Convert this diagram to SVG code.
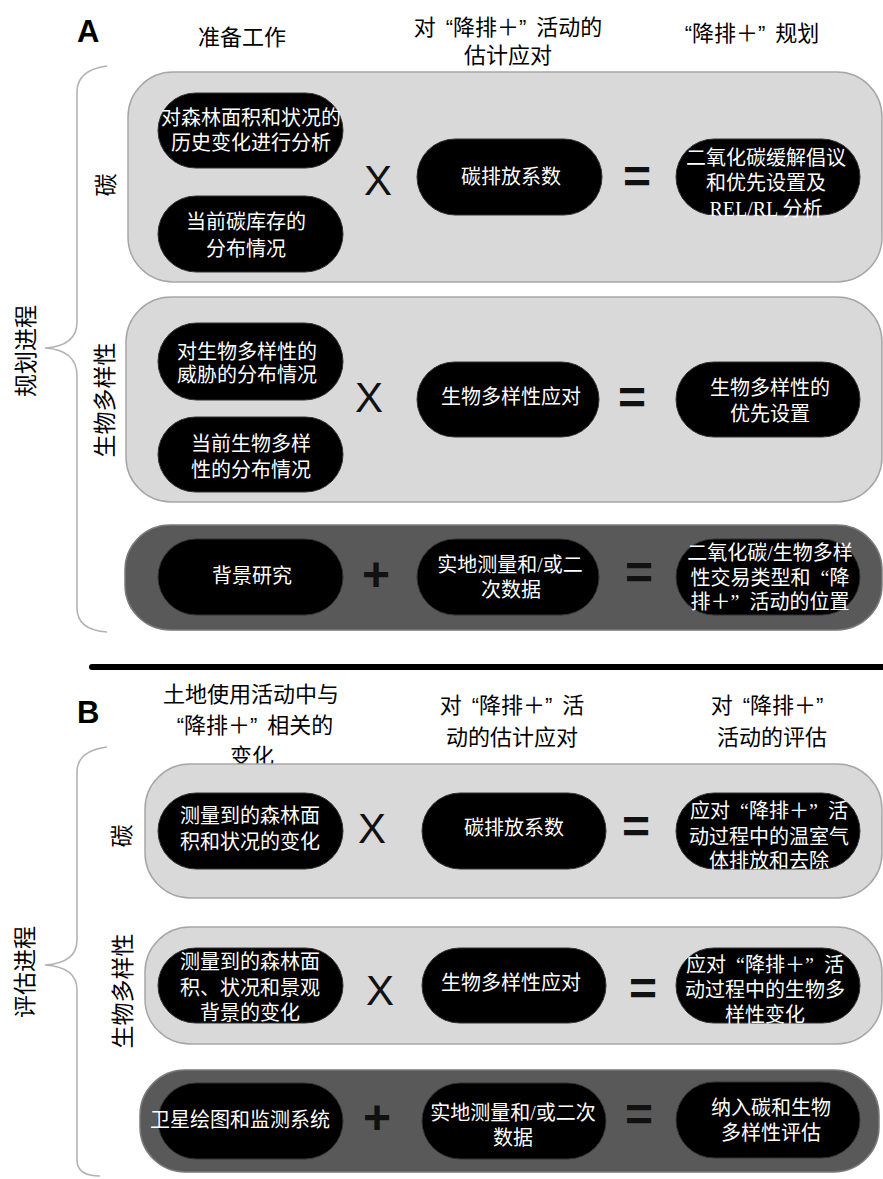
<svg xmlns="http://www.w3.org/2000/svg" width="883" height="1179" viewBox="0 0 883 1179">
<style>
.hd{font-family:"Liberation Sans","Noto Sans CJK SC",sans-serif;font-size:22px;fill:#000;text-anchor:middle;dominant-baseline:central}
.lbl{font-family:"Noto Sans CJK SC","Noto Sans",sans-serif;font-size:23px;fill:#000;text-anchor:middle;dominant-baseline:central}
.big{font-family:"Liberation Sans",Arial,sans-serif;font-weight:bold;font-size:31px;fill:#000}
.nt{font-family:"Liberation Serif","Noto Sans CJK SC",serif;font-size:20px;fill:#fff;text-anchor:middle;dominant-baseline:central}
.pill{fill:#000;stroke:#333;stroke-width:1}
.lt{fill:#d9d9d9;stroke:#a6a6a6;stroke-width:1.5}
.dk{fill:#595959;stroke:#7a7a7a;stroke-width:1.5}
.op{font-family:"Liberation Sans",Arial,sans-serif;font-size:42px;fill:#111;text-anchor:middle;dominant-baseline:central}
.opb{font-family:"Liberation Sans",Arial,sans-serif;font-weight:bold;font-size:48px;fill:#111;text-anchor:middle;dominant-baseline:central}
.brace{fill:none;stroke:#b3b3b3;stroke-width:1.6}
</style>
<rect width="883" height="1179" fill="#fff"/>

<!-- Panel A headers -->
<g id="headerA">
<text class="big" x="77" y="42">A</text>
<text class="hd" x="242" y="37">准备工作</text>
<text class="hd" x="508" y="27">对<tspan dx="10">“</tspan>降排＋”<tspan dx="10">活</tspan>动的</text>
<text class="hd" x="508" y="55">估计应对</text>
<text class="hd" x="752" y="33">“降排＋”<tspan dx="10">规</tspan>划</text>
</g>

<g id="braceA">
<path class="brace" d="M107,66 Q77,70 77,92 L77,322 Q77,346 45,348 Q77,350 77,376 L77,608 Q77,630 107,632"/>
<text class="lbl" transform="translate(24,351) rotate(-90)">规划进程</text>
</g>

<!-- A carbon -->
<g id="A-carbon">
<rect class="lt" x="128" y="72" width="754" height="210" rx="45"/>
<text class="lbl" transform="translate(104,185) rotate(-90)">碳</text>
</g>
<g id="A-c-hist">
<rect class="pill" x="158" y="93" width="185" height="75" rx="37.5"/>
<text class="nt" x="251" y="118">对森林面积和状况的</text>
<text class="nt" x="251" y="143">历史变化进行分析</text>
</g>
<g id="A-c-stock">
<rect class="pill" x="158" y="196" width="185" height="76" rx="38"/>
<text class="nt" x="246" y="222">当前碳库存的</text>
<text class="nt" x="246" y="249">分布情况</text>
</g>
<text class="op" x="378" y="180">X</text>
<g id="A-c-factor">
<rect class="pill" x="417" y="139" width="185" height="76" rx="38"/>
<text class="nt" x="511" y="177">碳排放系数</text>
</g>
<text class="opb" x="637" y="176">=</text>
<g id="A-c-out">
<rect class="pill" x="676" y="139" width="184" height="76" rx="38"/>
<text class="nt" x="766" y="158">二氧化碳缓解倡议</text>
<text class="nt" x="766" y="183">和优先设置及</text>
<text class="nt" x="766" y="209">REL/RL 分析</text>
</g>

<!-- A biodiversity -->
<g id="A-bio">
<rect class="lt" x="126" y="297" width="756" height="205" rx="45"/>
<text class="lbl" transform="translate(103,400) rotate(-90)">生物多样性</text>
</g>
<g id="A-b-threat">
<rect class="pill" x="158" y="323" width="185" height="77" rx="38.5"/>
<text class="nt" x="247" y="352">对生物多样性的</text>
<text class="nt" x="247" y="375">威胁的分布情况</text>
</g>
<g id="A-b-dist">
<rect class="pill" x="158" y="417" width="185" height="75" rx="37.5"/>
<text class="nt" x="251" y="444">当前生物多样</text>
<text class="nt" x="251" y="470">性的分布情况</text>
</g>
<text class="op" x="369" y="397">X</text>
<g id="A-b-resp">
<rect class="pill" x="417" y="362" width="182" height="75" rx="37.5"/>
<text class="nt" x="511" y="397">生物多样性应对</text>
</g>
<text class="opb" x="632" y="397">=</text>
<g id="A-b-out">
<rect class="pill" x="676" y="362" width="184" height="75" rx="37.5"/>
<text class="nt" x="770" y="388">生物多样性的</text>
<text class="nt" x="770" y="414">优先设置</text>
</g>

<!-- A dark -->
<g id="A-dark">
<rect class="dk" x="125" y="525" width="757" height="105" rx="45"/>
</g>
<g id="A-d-bg">
<rect class="pill" x="158" y="539" width="185" height="76" rx="38"/>
<text class="nt" x="252" y="576">背景研究</text>
</g>
<text class="opb" x="376" y="574">+</text>
<g id="A-d-field">
<rect class="pill" x="417" y="539" width="182" height="76" rx="38"/>
<text class="nt" x="510" y="565">实地测量和/或二</text>
<text class="nt" x="511" y="590">次数据</text>
</g>
<text class="opb" x="639" y="572">=</text>
<g id="A-d-out">
<rect class="pill" x="676" y="539" width="184" height="76" rx="38"/>
<text class="nt" x="770" y="553">二氧化碳/生物多样</text>
<text class="nt" x="770" y="578">性交易类型和<tspan dx="10">“</tspan>降</text>
<text class="nt" x="770" y="602">排＋”<tspan dx="10">活</tspan>动的位置</text>
</g>

<!-- divider -->
<line x1="92" y1="667" x2="883" y2="667" stroke="#000" stroke-width="6" stroke-linecap="round"/>

<!-- Panel B headers -->
<g id="headerB">
<text class="big" x="77" y="723">B</text>
<text class="hd" x="251" y="694">土地使用活动中与</text>
<text class="hd" x="255" y="725">“降排＋”<tspan dx="10">相</tspan>关的</text>
<text class="hd" x="252" y="756">变化</text>
<text class="hd" x="512" y="705">对<tspan dx="10">“</tspan>降排＋”<tspan dx="10">活</tspan></text>
<text class="hd" x="512" y="737">动的估计应对</text>
<text class="hd" x="767" y="705">对<tspan dx="10">“</tspan>降排＋”</text>
<text class="hd" x="772" y="737">活动的评估</text>
</g>

<g id="braceB">
<path class="brace" d="M107,747 Q77,751 77,772 L77,940 Q77,963 45,965 Q77,967 77,990 L77,1160 Q77,1176 100,1176"/>
<text class="lbl" transform="translate(23,972) rotate(-90)">评估进程</text>
</g>

<!-- B carbon -->
<g id="B-carbon">
<rect class="lt" x="145" y="764" width="737" height="134" rx="45"/>
<text class="lbl" transform="translate(120,836) rotate(-90)">碳</text>
</g>
<g id="B-c-meas">
<rect class="pill" x="158" y="793" width="185" height="76" rx="38"/>
<text class="nt" x="250" y="816">测量到的森林面</text>
<text class="nt" x="250" y="842">积和状况的变化</text>
</g>
<text class="op" x="372" y="828">X</text>
<g id="B-c-factor">
<rect class="pill" x="422" y="793" width="184" height="76" rx="38"/>
<text class="nt" x="514" y="828">碳排放系数</text>
</g>
<text class="opb" x="636" y="826">=</text>
<g id="B-c-out">
<rect class="pill" x="676" y="793" width="184" height="76" rx="38"/>
<text class="nt" x="769" y="811">应对<tspan dx="10">“</tspan>降排＋”<tspan dx="10">活</tspan></text>
<text class="nt" x="769" y="837">动过程中的温室气</text>
<text class="nt" x="769" y="861">体排放和去除</text>
</g>

<!-- B biodiversity -->
<g id="B-bio">
<rect class="lt" x="145" y="927" width="737" height="117" rx="45"/>
<text class="lbl" transform="translate(121,991) rotate(-90)">生物多样性</text>
</g>
<g id="B-b-meas">
<rect class="pill" x="158" y="948" width="185" height="75" rx="37.5"/>
<text class="nt" x="250" y="962">测量到的森林面</text>
<text class="nt" x="250" y="988">积、状况和景观</text>
<text class="nt" x="250" y="1013">背景的变化</text>
</g>
<text class="op" x="380" y="990">X</text>
<g id="B-b-resp">
<rect class="pill" x="422" y="948" width="184" height="75" rx="37.5"/>
<text class="nt" x="511" y="983">生物多样性应对</text>
</g>
<text class="opb" x="643" y="988">=</text>
<g id="B-b-out">
<rect class="pill" x="676" y="948" width="184" height="75" rx="37.5"/>
<text class="nt" x="765" y="965">应对<tspan dx="10">“</tspan>降排＋”<tspan dx="10">活</tspan></text>
<text class="nt" x="765" y="990">动过程中的生物多</text>
<text class="nt" x="765" y="1015">样性变化</text>
</g>

<!-- B dark -->
<g id="B-dark">
<rect class="dk" x="140" y="1070" width="739" height="102" rx="45"/>
</g>
<g id="B-d-sat">
<rect class="pill" x="158" y="1083" width="185" height="76" rx="38"/>
<text class="nt" x="240" y="1120">卫星绘图和监测系统</text>
</g>
<text class="opb" x="377" y="1117">+</text>
<g id="B-d-field">
<rect class="pill" x="422" y="1083" width="184" height="76" rx="38"/>
<text class="nt" x="513" y="1113">实地测量和/或二次</text>
<text class="nt" x="513" y="1138">数据</text>
</g>
<text class="opb" x="639" y="1114">=</text>
<g id="B-d-out">
<rect class="pill" x="676" y="1082" width="184" height="76" rx="38"/>
<text class="nt" x="771" y="1108">纳入碳和生物</text>
<text class="nt" x="771" y="1133">多样性评估</text>
</g>

<g id="connectors"></g>
</svg>
